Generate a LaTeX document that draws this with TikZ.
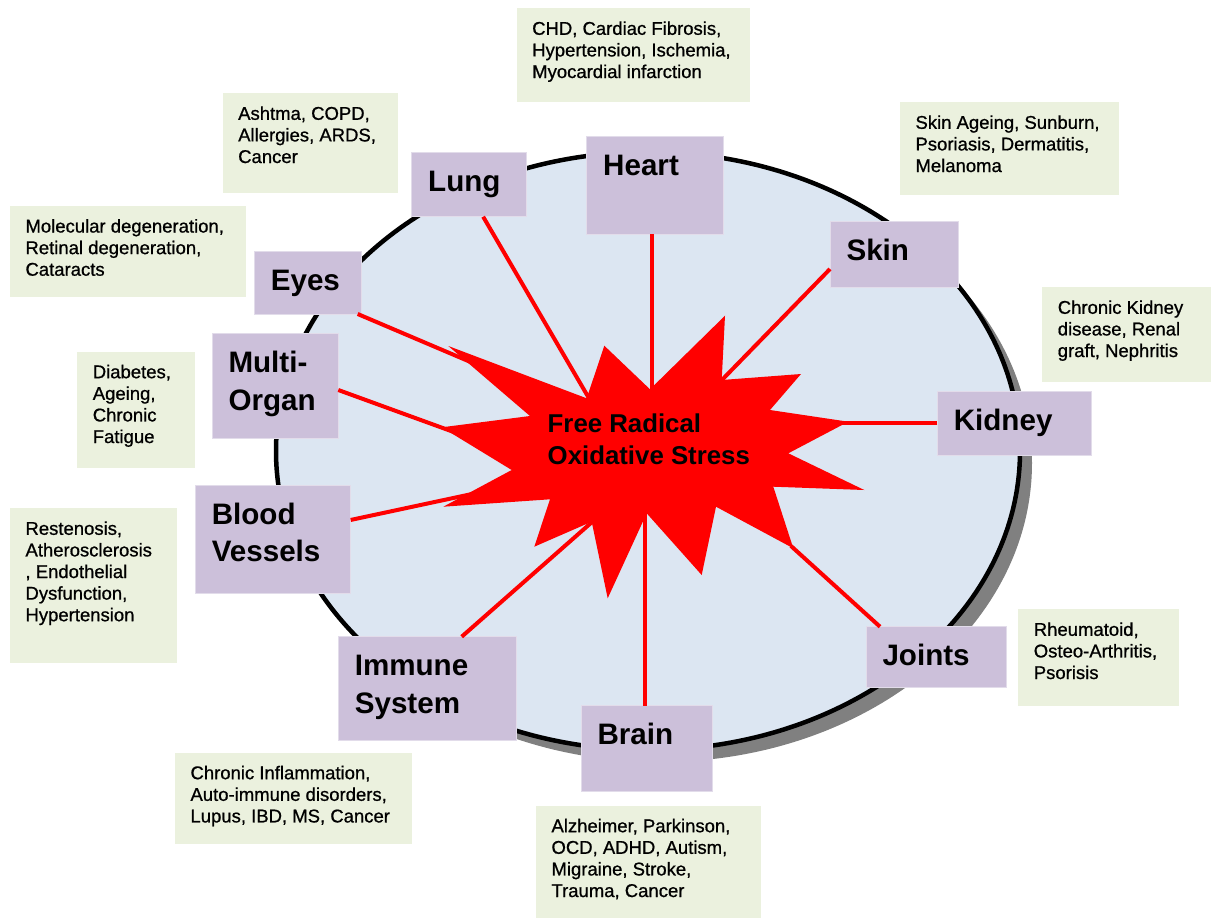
\documentclass[tikz,border=0pt]{standalone}
\usepackage{fontspec}
\setmainfont{Liberation Sans}
\newfontfamily\diseasefamily[FakeBold=0.8]{Liberation Sans}
\definecolor{ellfill}{RGB}{220,230,242}
\definecolor{shadowgray}{RGB}{128,128,128}
\definecolor{organfill}{RGB}{204,192,218}
\definecolor{organedge}{RGB}{226,220,234}
\definecolor{diseasefill}{RGB}{235,241,222}
\definecolor{starred}{RGB}{255,0,0}
\newcommand{\organfont}{\bfseries\fontsize{29.6pt}{37.5pt}\selectfont}
\newcommand{\diseasefont}{\diseasefamily\fontsize{18.5pt}{21.6pt}\selectfont}
\newcommand{\starfont}{\bfseries\fontsize{25.8pt}{31.6pt}\selectfont}
\newcommand{\organtext}[3]{\parbox[t][#2pt][t]{\dimexpr#1pt-33pt\relax}{\raggedright\vspace*{13pt}\strut#3}}
\newcommand{\diseasetext}[3]{\parbox[t][#2pt][t]{\dimexpr#1pt-31pt\relax}{\raggedright\vspace*{11.4pt}\strut#3}}
\tikzset{
  organ/.style={fill=organfill, draw=organedge, line width=1pt, inner xsep=16.5pt, inner ysep=0pt, outer sep=0pt, anchor=north west, font=\organfont},
  disease/.style={fill=diseasefill, inner xsep=15.5pt, inner ysep=0pt, outer sep=0pt, anchor=north west, font=\diseasefont},
  link/.style={draw=starred, line width=4pt},
}
\begin{document}
\begin{tikzpicture}[x=1pt, y=-1pt]
\useasboundingbox (0,0) rectangle (1211,919);
% body ellipse with shadow
\fill[shadowgray] (660,463) ellipse [x radius=372pt, y radius=299pt];
\filldraw[fill=ellfill, draw=black, line width=4.5pt] (648,451) ellipse [x radius=372pt, y radius=299pt];

% organ boxes
\node[organ] (lung)   at (411.7,152.3) {\organtext{114.3}{64.4}{Lung}};
\node[organ] (heart)  at (586.7,136)   {\organtext{136.6}{98}{Heart}};
\node[organ] (skin)   at (830,221.7)   {\organtext{128.3}{65.6}{Skin}};
\node[organ] (eyes)   at (254.3,251)   {\organtext{107.4}{63}{Eyes}};
\node[organ] (multi)  at (212,333.3)   {\organtext{126.3}{105}{Multi-\\Organ}};
\node[organ] (kidney) at (937.3,391)   {\organtext{154.4}{64}{Kidney}};
\node[organ] (blood)  at (195.3,485)   {\organtext{155.4}{108.3}{Blood\\Vessels}};
\node[organ] (immune) at (338.3,636.7) {\organtext{178.4}{103.3}{Immune\\System}};
\node[organ] (brain)  at (581,705.7)   {\organtext{131.7}{85.3}{Brain}};
\node[organ] (joints) at (866,626.7)   {\organtext{140}{60.6}{Joints}};

% disease boxes
\node[disease] (d-heart)  at (516.7,8.3)   {\diseasetext{233.3}{94}{CHD, Cardiac Fibrosis,\\Hypertension, Ischemia,\\Myocardial infarction}};
\node[disease] (d-lung)   at (222.7,93.3)  {\diseasetext{175.6}{100}{Ashtma, COPD,\\Allergies, ARDS,\\Cancer}};
\node[disease] (d-skin)   at (900,102.3)   {\diseasetext{219}{92.7}{Skin Ageing, Sunburn,\\Psoriasis, Dermatitis,\\Melanoma}};
\node[disease] (d-eyes)   at (10,206)      {\diseasetext{236}{91.3}{Molecular degeneration,\\Retinal degeneration,\\Cataracts}};
\node[disease] (d-kidney) at (1042.3,287.3){\diseasetext{168.7}{94.4}{Chronic Kidney\\disease, Renal\\graft, Nephritis}};
\node[disease] (d-multi)  at (77.3,351.7)  {\diseasetext{117.4}{116.6}{Diabetes,\\Ageing,\\Chronic\\Fatigue}};
\node[disease] (d-blood)  at (10,508.3)    {\diseasetext{167.3}{154.4}{Restenosis,\\Atherosclerosis\\, Endothelial\\Dysfunction,\\Hypertension}};
\node[disease] (d-joints) at (1018.3,609.3){\diseasetext{161}{96.4}{Rheumatoid,\\Osteo-Arthritis,\\Psorisis}};
\node[disease] (d-immune) at (175,752.7)   {\diseasetext{237.3}{91.6}{Chronic Inflammation,\\Auto-immune disorders,\\Lupus, IBD, MS, Cancer}};
\node[disease] (d-brain)  at (536,805.7)   {\diseasetext{224.7}{112.6}{Alzheimer, Parkinson,\\OCD, ADHD, Autism,\\Migraine, Stroke,\\Trauma, Cancer}};

% connector ends inside the burst
\coordinate (e-lung)   at (590,400);
\coordinate (e-heart)  at (652,395);
\coordinate (e-skin)   at (718,384);
\coordinate (e-eyes)   at (480,366);
\coordinate (e-multi)  at (495,447);
\coordinate (e-kidney) at (840,423);
\coordinate (e-blood)  at (500,488);
\coordinate (e-immune) at (600,515);
\coordinate (e-brain)  at (645,508);
\coordinate (e-joints) at (791,546);

% connectors
\draw[link] ([xshift=14.3pt]lung.south) -- (e-lung);
\draw[link] (e-heart |- heart.south) -- (e-heart);
\draw[link] ([yshift=-14.5pt]skin.west) -- (e-skin);
\draw[link] ([xshift=-4pt]eyes.south east) -- (e-eyes);
\draw[link] ([yshift=-4.2pt]multi.east) -- (e-multi);
\draw[link] (kidney.west) -- (e-kidney);
\draw[link] ([yshift=19.2pt]blood.east) -- (e-blood);
\draw[link] ([xshift=34.2pt]immune.north) -- (e-immune);
\draw[link] (e-brain |- brain.north) -- (e-brain);
\draw[link] ([xshift=14pt]joints.north west) -- (e-joints);

% burst
\fill[starred] (448.3,346) -- (586.7,398.3) -- (604.3,345.7) -- (650,389.3)
  -- (725,315.7) -- (721.7,380) -- (801,374) -- (770,410) -- (848.3,421.7)
  -- (788.3,453.3) -- (864.3,490) -- (773.3,486.7) -- (793.3,548.3)
  -- (716,506.7) -- (701.7,575) -- (646.7,513.3) -- (607.7,598.3)
  -- (591.7,521.7) -- (534.3,546.7) -- (550,499.3) -- (443.3,506.7)
  -- (511.7,470) -- (441.7,427.3) -- (530,416) -- cycle;
\node[anchor=base west, inner sep=0pt, font=\starfont] (stress) at (547.5,432.7)
  {\parbox[t]{240pt}{Free Radical\\Oxidative Stress}};
\end{tikzpicture}
\end{document}
